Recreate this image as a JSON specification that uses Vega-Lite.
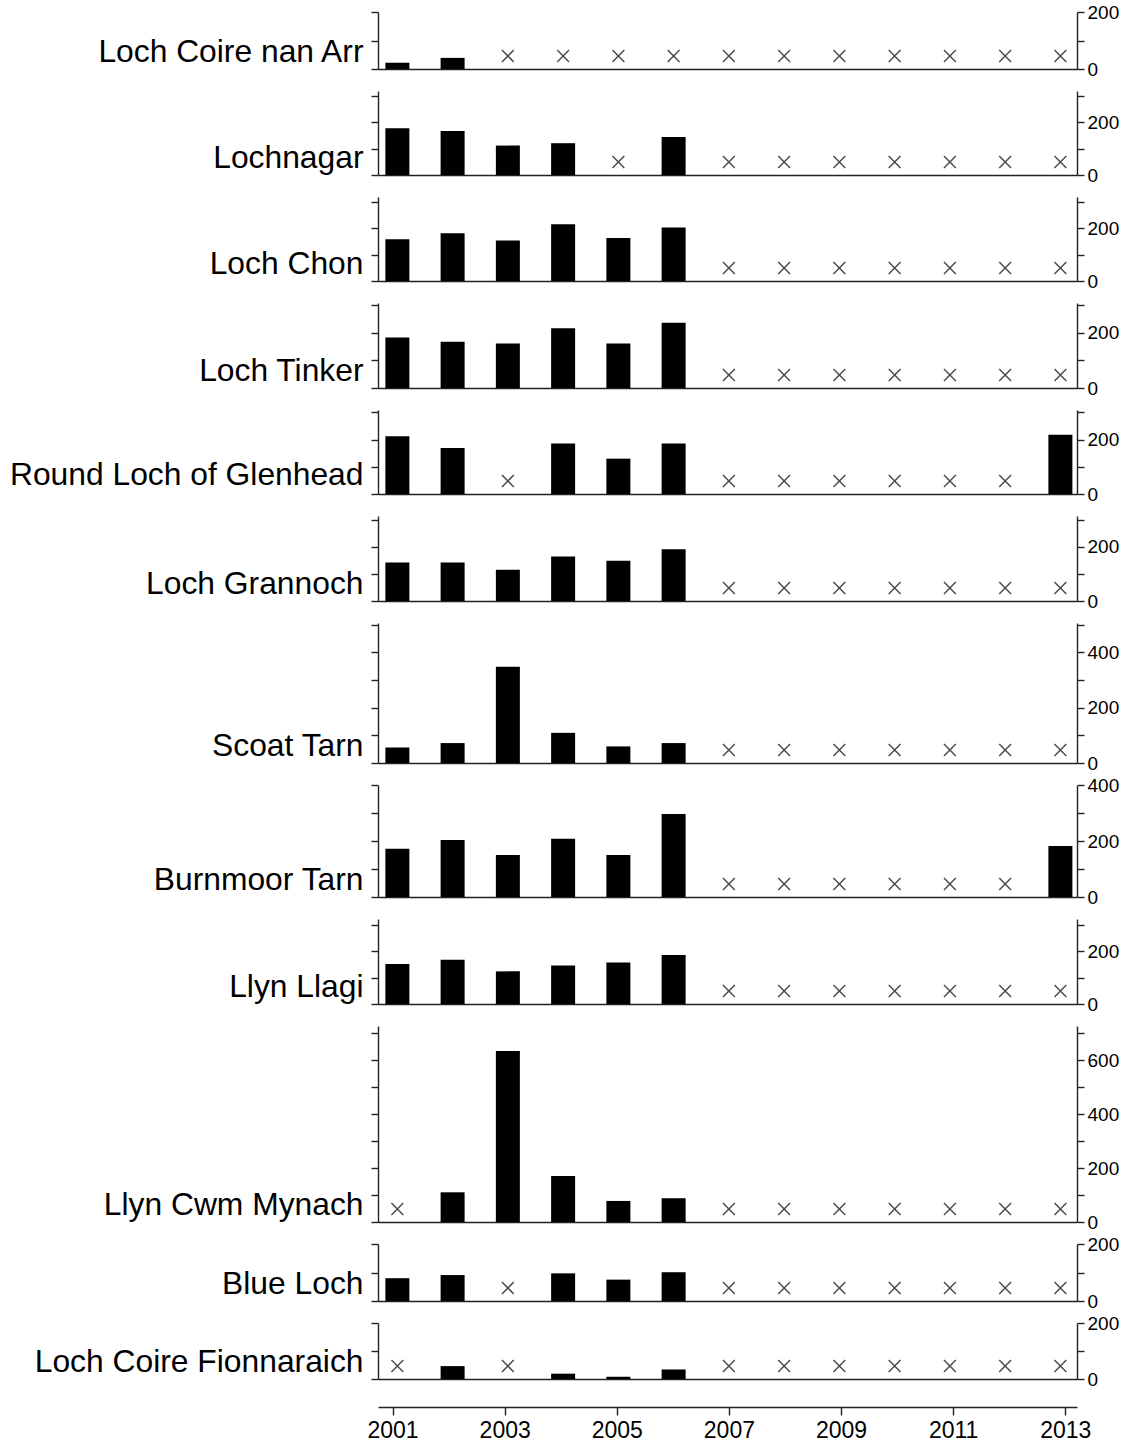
{
"$schema": "https://vega.github.io/schema/vega-lite/v6.json",
"background": "white",
"padding": {"left": 9, "top": 3, "right": 5, "bottom": 0},
"spacing": 22,
"bounds": "flush",
"config": {
  "view": {"stroke": null},
  "axis": {"grid": false, "domainColor": "#222", "tickColor": "#222", "domainWidth": 1.4, "tickWidth": 1.4, "labelFont": "Liberation Sans", "titleFont": "Liberation Sans", "labelColor": "black", "titleColor": "black"}
},
"datasets": {
"d": [
{"lake":"Loch Coire nan Arr","year":2001,"value":22},{"lake":"Loch Coire nan Arr","year":2002,"value":39},{"lake":"Loch Coire nan Arr","year":2003,"value":null},{"lake":"Loch Coire nan Arr","year":2004,"value":null},{"lake":"Loch Coire nan Arr","year":2005,"value":null},{"lake":"Loch Coire nan Arr","year":2006,"value":null},{"lake":"Loch Coire nan Arr","year":2007,"value":null},{"lake":"Loch Coire nan Arr","year":2008,"value":null},{"lake":"Loch Coire nan Arr","year":2009,"value":null},{"lake":"Loch Coire nan Arr","year":2010,"value":null},{"lake":"Loch Coire nan Arr","year":2011,"value":null},{"lake":"Loch Coire nan Arr","year":2012,"value":null},{"lake":"Loch Coire nan Arr","year":2013,"value":null},
{"lake":"Lochnagar","year":2001,"value":176},{"lake":"Lochnagar","year":2002,"value":166},{"lake":"Lochnagar","year":2003,"value":111},{"lake":"Lochnagar","year":2004,"value":120},{"lake":"Lochnagar","year":2005,"value":null},{"lake":"Lochnagar","year":2006,"value":143},{"lake":"Lochnagar","year":2007,"value":null},{"lake":"Lochnagar","year":2008,"value":null},{"lake":"Lochnagar","year":2009,"value":null},{"lake":"Lochnagar","year":2010,"value":null},{"lake":"Lochnagar","year":2011,"value":null},{"lake":"Lochnagar","year":2012,"value":null},{"lake":"Lochnagar","year":2013,"value":null},
{"lake":"Loch Chon","year":2001,"value":158},{"lake":"Loch Chon","year":2002,"value":181},{"lake":"Loch Chon","year":2003,"value":153},{"lake":"Loch Chon","year":2004,"value":215},{"lake":"Loch Chon","year":2005,"value":163},{"lake":"Loch Chon","year":2006,"value":203},{"lake":"Loch Chon","year":2007,"value":null},{"lake":"Loch Chon","year":2008,"value":null},{"lake":"Loch Chon","year":2009,"value":null},{"lake":"Loch Chon","year":2010,"value":null},{"lake":"Loch Chon","year":2011,"value":null},{"lake":"Loch Chon","year":2012,"value":null},{"lake":"Loch Chon","year":2013,"value":null},
{"lake":"Loch Tinker","year":2001,"value":184},{"lake":"Loch Tinker","year":2002,"value":168},{"lake":"Loch Tinker","year":2003,"value":162},{"lake":"Loch Tinker","year":2004,"value":217},{"lake":"Loch Tinker","year":2005,"value":162},{"lake":"Loch Tinker","year":2006,"value":237},{"lake":"Loch Tinker","year":2007,"value":null},{"lake":"Loch Tinker","year":2008,"value":null},{"lake":"Loch Tinker","year":2009,"value":null},{"lake":"Loch Tinker","year":2010,"value":null},{"lake":"Loch Tinker","year":2011,"value":null},{"lake":"Loch Tinker","year":2012,"value":null},{"lake":"Loch Tinker","year":2013,"value":null},
{"lake":"Round Loch of Glenhead","year":2001,"value":212},{"lake":"Round Loch of Glenhead","year":2002,"value":169},{"lake":"Round Loch of Glenhead","year":2003,"value":null},{"lake":"Round Loch of Glenhead","year":2004,"value":186},{"lake":"Round Loch of Glenhead","year":2005,"value":130},{"lake":"Round Loch of Glenhead","year":2006,"value":186},{"lake":"Round Loch of Glenhead","year":2007,"value":null},{"lake":"Round Loch of Glenhead","year":2008,"value":null},{"lake":"Round Loch of Glenhead","year":2009,"value":null},{"lake":"Round Loch of Glenhead","year":2010,"value":null},{"lake":"Round Loch of Glenhead","year":2011,"value":null},{"lake":"Round Loch of Glenhead","year":2012,"value":null},{"lake":"Round Loch of Glenhead","year":2013,"value":218},
{"lake":"Loch Grannoch","year":2001,"value":142},{"lake":"Loch Grannoch","year":2002,"value":142},{"lake":"Loch Grannoch","year":2003,"value":115},{"lake":"Loch Grannoch","year":2004,"value":164},{"lake":"Loch Grannoch","year":2005,"value":148},{"lake":"Loch Grannoch","year":2006,"value":191},{"lake":"Loch Grannoch","year":2007,"value":null},{"lake":"Loch Grannoch","year":2008,"value":null},{"lake":"Loch Grannoch","year":2009,"value":null},{"lake":"Loch Grannoch","year":2010,"value":null},{"lake":"Loch Grannoch","year":2011,"value":null},{"lake":"Loch Grannoch","year":2012,"value":null},{"lake":"Loch Grannoch","year":2013,"value":null},
{"lake":"Scoat Tarn","year":2001,"value":56},{"lake":"Scoat Tarn","year":2002,"value":72},{"lake":"Scoat Tarn","year":2003,"value":348},{"lake":"Scoat Tarn","year":2004,"value":109},{"lake":"Scoat Tarn","year":2005,"value":60},{"lake":"Scoat Tarn","year":2006,"value":72},{"lake":"Scoat Tarn","year":2007,"value":null},{"lake":"Scoat Tarn","year":2008,"value":null},{"lake":"Scoat Tarn","year":2009,"value":null},{"lake":"Scoat Tarn","year":2010,"value":null},{"lake":"Scoat Tarn","year":2011,"value":null},{"lake":"Scoat Tarn","year":2012,"value":null},{"lake":"Scoat Tarn","year":2013,"value":null},
{"lake":"Burnmoor Tarn","year":2001,"value":172},{"lake":"Burnmoor Tarn","year":2002,"value":204},{"lake":"Burnmoor Tarn","year":2003,"value":150},{"lake":"Burnmoor Tarn","year":2004,"value":208},{"lake":"Burnmoor Tarn","year":2005,"value":150},{"lake":"Burnmoor Tarn","year":2006,"value":296},{"lake":"Burnmoor Tarn","year":2007,"value":null},{"lake":"Burnmoor Tarn","year":2008,"value":null},{"lake":"Burnmoor Tarn","year":2009,"value":null},{"lake":"Burnmoor Tarn","year":2010,"value":null},{"lake":"Burnmoor Tarn","year":2011,"value":null},{"lake":"Burnmoor Tarn","year":2012,"value":null},{"lake":"Burnmoor Tarn","year":2013,"value":182},
{"lake":"Llyn Llagi","year":2001,"value":152},{"lake":"Llyn Llagi","year":2002,"value":168},{"lake":"Llyn Llagi","year":2003,"value":124},{"lake":"Llyn Llagi","year":2004,"value":146},{"lake":"Llyn Llagi","year":2005,"value":158},{"lake":"Llyn Llagi","year":2006,"value":186},{"lake":"Llyn Llagi","year":2007,"value":null},{"lake":"Llyn Llagi","year":2008,"value":null},{"lake":"Llyn Llagi","year":2009,"value":null},{"lake":"Llyn Llagi","year":2010,"value":null},{"lake":"Llyn Llagi","year":2011,"value":null},{"lake":"Llyn Llagi","year":2012,"value":null},{"lake":"Llyn Llagi","year":2013,"value":null},
{"lake":"Llyn Cwm Mynach","year":2001,"value":null},{"lake":"Llyn Cwm Mynach","year":2002,"value":110},{"lake":"Llyn Cwm Mynach","year":2003,"value":633},{"lake":"Llyn Cwm Mynach","year":2004,"value":170},{"lake":"Llyn Cwm Mynach","year":2005,"value":78},{"lake":"Llyn Cwm Mynach","year":2006,"value":88},{"lake":"Llyn Cwm Mynach","year":2007,"value":null},{"lake":"Llyn Cwm Mynach","year":2008,"value":null},{"lake":"Llyn Cwm Mynach","year":2009,"value":null},{"lake":"Llyn Cwm Mynach","year":2010,"value":null},{"lake":"Llyn Cwm Mynach","year":2011,"value":null},{"lake":"Llyn Cwm Mynach","year":2012,"value":null},{"lake":"Llyn Cwm Mynach","year":2013,"value":null},
{"lake":"Blue Loch","year":2001,"value":80},{"lake":"Blue Loch","year":2002,"value":91},{"lake":"Blue Loch","year":2003,"value":null},{"lake":"Blue Loch","year":2004,"value":97},{"lake":"Blue Loch","year":2005,"value":75},{"lake":"Blue Loch","year":2006,"value":101},{"lake":"Blue Loch","year":2007,"value":null},{"lake":"Blue Loch","year":2008,"value":null},{"lake":"Blue Loch","year":2009,"value":null},{"lake":"Blue Loch","year":2010,"value":null},{"lake":"Blue Loch","year":2011,"value":null},{"lake":"Blue Loch","year":2012,"value":null},{"lake":"Blue Loch","year":2013,"value":null},
{"lake":"Loch Coire Fionnaraich","year":2001,"value":null},{"lake":"Loch Coire Fionnaraich","year":2002,"value":46},{"lake":"Loch Coire Fionnaraich","year":2003,"value":null},{"lake":"Loch Coire Fionnaraich","year":2004,"value":19},{"lake":"Loch Coire Fionnaraich","year":2005,"value":8},{"lake":"Loch Coire Fionnaraich","year":2006,"value":34},{"lake":"Loch Coire Fionnaraich","year":2007,"value":null},{"lake":"Loch Coire Fionnaraich","year":2008,"value":null},{"lake":"Loch Coire Fionnaraich","year":2009,"value":null},{"lake":"Loch Coire Fionnaraich","year":2010,"value":null},{"lake":"Loch Coire Fionnaraich","year":2011,"value":null},{"lake":"Loch Coire Fionnaraich","year":2012,"value":null},{"lake":"Loch Coire Fionnaraich","year":2013,"value":null}
]
},
"data": {"name": "d"},
"vconcat": [
{"width": 699, "height": 57, "transform": [{"filter": "datum.lake === 'Loch Coire nan Arr'"}],
 "encoding": {"x": {"field": "year", "type": "quantitative", "scale": {"domain": [2000.74, 2013.21], "nice": false, "zero": false}, "axis": {"title": null, "labels": false, "ticks": false, "domain": true}}},
 "layer": [
  {"transform": [{"filter": "datum.value != null"}], "mark": {"type": "bar", "color": "black", "size": 24, "orient": "vertical"},
   "encoding": {"y": {"field": "value", "type": "quantitative", "scale": {"domain": [0, 200], "nice": false}, "axis": {"orient": "left", "labels": false, "values": [0, 100, 200], "tickSize": 7, "title": "Loch Coire nan Arr", "titleAngle": 0, "titleAlign": "right", "titleBaseline": "alphabetic", "titleX": -15, "titleY": 49, "titleFontSize": 31.8, "titleFontWeight": "normal"}}}},
  {"transform": [{"filter": "datum.value == null"}], "mark": {"type": "point", "shape": "M-1,-1L1,1M-1,1L1,-1", "filled": false, "stroke": "black", "strokeWidth": 1.5, "size": 140, "yOffset": -13},
   "encoding": {"y": {"datum": 0, "type": "quantitative", "axis": {"orient": "right", "title": null, "values": [0, 100, 200], "tickSize": 7, "labelFontSize": 19, "labelPadding": 3, "labelExpr": "datum.value % 200 === 0 ? datum.label : ''"}}}}
 ], "resolve": {"axis": {"y": "independent"}}},
{"width": 699, "height": 84, "transform": [{"filter": "datum.lake === 'Lochnagar'"}],
 "encoding": {"x": {"field": "year", "type": "quantitative", "scale": {"domain": [2000.74, 2013.21], "nice": false, "zero": false}, "axis": {"title": null, "labels": false, "ticks": false, "domain": true}}},
 "layer": [
  {"transform": [{"filter": "datum.value != null"}], "mark": {"type": "bar", "color": "black", "size": 24, "orient": "vertical"},
   "encoding": {"y": {"field": "value", "type": "quantitative", "scale": {"domain": [0, 317], "nice": false}, "axis": {"orient": "left", "labels": false, "values": [0, 100, 200, 300], "tickSize": 7, "title": "Lochnagar", "titleAngle": 0, "titleAlign": "right", "titleBaseline": "alphabetic", "titleX": -15, "titleY": 76, "titleFontSize": 31.8, "titleFontWeight": "normal"}}}},
  {"transform": [{"filter": "datum.value == null"}], "mark": {"type": "point", "shape": "M-1,-1L1,1M-1,1L1,-1", "filled": false, "stroke": "black", "strokeWidth": 1.5, "size": 140, "yOffset": -13},
   "encoding": {"y": {"datum": 0, "type": "quantitative", "axis": {"orient": "right", "title": null, "values": [0, 100, 200, 300], "tickSize": 7, "labelFontSize": 19, "labelPadding": 3, "labelExpr": "datum.value % 200 === 0 ? datum.label : ''"}}}}
 ], "resolve": {"axis": {"y": "independent"}}},
{"width": 699, "height": 84, "transform": [{"filter": "datum.lake === 'Loch Chon'"}],
 "encoding": {"x": {"field": "year", "type": "quantitative", "scale": {"domain": [2000.74, 2013.21], "nice": false, "zero": false}, "axis": {"title": null, "labels": false, "ticks": false, "domain": true}}},
 "layer": [
  {"transform": [{"filter": "datum.value != null"}], "mark": {"type": "bar", "color": "black", "size": 24, "orient": "vertical"},
   "encoding": {"y": {"field": "value", "type": "quantitative", "scale": {"domain": [0, 318], "nice": false}, "axis": {"orient": "left", "labels": false, "values": [0, 100, 200, 300], "tickSize": 7, "title": "Loch Chon", "titleAngle": 0, "titleAlign": "right", "titleBaseline": "alphabetic", "titleX": -15, "titleY": 76, "titleFontSize": 31.8, "titleFontWeight": "normal"}}}},
  {"transform": [{"filter": "datum.value == null"}], "mark": {"type": "point", "shape": "M-1,-1L1,1M-1,1L1,-1", "filled": false, "stroke": "black", "strokeWidth": 1.5, "size": 140, "yOffset": -13},
   "encoding": {"y": {"datum": 0, "type": "quantitative", "axis": {"orient": "right", "title": null, "values": [0, 100, 200, 300], "tickSize": 7, "labelFontSize": 19, "labelPadding": 3, "labelExpr": "datum.value % 200 === 0 ? datum.label : ''"}}}}
 ], "resolve": {"axis": {"y": "independent"}}},
{"width": 699, "height": 85, "transform": [{"filter": "datum.lake === 'Loch Tinker'"}],
 "encoding": {"x": {"field": "year", "type": "quantitative", "scale": {"domain": [2000.74, 2013.21], "nice": false, "zero": false}, "axis": {"title": null, "labels": false, "ticks": false, "domain": true}}},
 "layer": [
  {"transform": [{"filter": "datum.value != null"}], "mark": {"type": "bar", "color": "black", "size": 24, "orient": "vertical"},
   "encoding": {"y": {"field": "value", "type": "quantitative", "scale": {"domain": [0, 309], "nice": false}, "axis": {"orient": "left", "labels": false, "values": [0, 100, 200, 300], "tickSize": 7, "title": "Loch Tinker", "titleAngle": 0, "titleAlign": "right", "titleBaseline": "alphabetic", "titleX": -15, "titleY": 77, "titleFontSize": 31.8, "titleFontWeight": "normal"}}}},
  {"transform": [{"filter": "datum.value == null"}], "mark": {"type": "point", "shape": "M-1,-1L1,1M-1,1L1,-1", "filled": false, "stroke": "black", "strokeWidth": 1.5, "size": 140, "yOffset": -13},
   "encoding": {"y": {"datum": 0, "type": "quantitative", "axis": {"orient": "right", "title": null, "values": [0, 100, 200, 300], "tickSize": 7, "labelFontSize": 19, "labelPadding": 3, "labelExpr": "datum.value % 200 === 0 ? datum.label : ''"}}}}
 ], "resolve": {"axis": {"y": "independent"}}},
{"width": 699, "height": 84, "transform": [{"filter": "datum.lake === 'Round Loch of Glenhead'"}],
 "encoding": {"x": {"field": "year", "type": "quantitative", "scale": {"domain": [2000.74, 2013.21], "nice": false, "zero": false}, "axis": {"title": null, "labels": false, "ticks": false, "domain": true}}},
 "layer": [
  {"transform": [{"filter": "datum.value != null"}], "mark": {"type": "bar", "color": "black", "size": 24, "orient": "vertical"},
   "encoding": {"y": {"field": "value", "type": "quantitative", "scale": {"domain": [0, 309], "nice": false}, "axis": {"orient": "left", "labels": false, "values": [0, 100, 200, 300], "tickSize": 7, "title": "Round Loch of Glenhead", "titleAngle": 0, "titleAlign": "right", "titleBaseline": "alphabetic", "titleX": -15, "titleY": 74, "titleFontSize": 31.8, "titleFontWeight": "normal"}}}},
  {"transform": [{"filter": "datum.value == null"}], "mark": {"type": "point", "shape": "M-1,-1L1,1M-1,1L1,-1", "filled": false, "stroke": "black", "strokeWidth": 1.5, "size": 140, "yOffset": -13},
   "encoding": {"y": {"datum": 0, "type": "quantitative", "axis": {"orient": "right", "title": null, "values": [0, 100, 200, 300], "tickSize": 7, "labelFontSize": 19, "labelPadding": 3, "labelExpr": "datum.value % 200 === 0 ? datum.label : ''"}}}}
 ], "resolve": {"axis": {"y": "independent"}}},
{"width": 699, "height": 85, "transform": [{"filter": "datum.lake === 'Loch Grannoch'"}],
 "encoding": {"x": {"field": "year", "type": "quantitative", "scale": {"domain": [2000.74, 2013.21], "nice": false, "zero": false}, "axis": {"title": null, "labels": false, "ticks": false, "domain": true}}},
 "layer": [
  {"transform": [{"filter": "datum.value != null"}], "mark": {"type": "bar", "color": "black", "size": 24, "orient": "vertical"},
   "encoding": {"y": {"field": "value", "type": "quantitative", "scale": {"domain": [0, 313], "nice": false}, "axis": {"orient": "left", "labels": false, "values": [0, 100, 200, 300], "tickSize": 7, "title": "Loch Grannoch", "titleAngle": 0, "titleAlign": "right", "titleBaseline": "alphabetic", "titleX": -15, "titleY": 77, "titleFontSize": 31.8, "titleFontWeight": "normal"}}}},
  {"transform": [{"filter": "datum.value == null"}], "mark": {"type": "point", "shape": "M-1,-1L1,1M-1,1L1,-1", "filled": false, "stroke": "black", "strokeWidth": 1.5, "size": 140, "yOffset": -13},
   "encoding": {"y": {"datum": 0, "type": "quantitative", "axis": {"orient": "right", "title": null, "values": [0, 100, 200, 300], "tickSize": 7, "labelFontSize": 19, "labelPadding": 3, "labelExpr": "datum.value % 200 === 0 ? datum.label : ''"}}}}
 ], "resolve": {"axis": {"y": "independent"}}},
{"width": 699, "height": 140, "transform": [{"filter": "datum.lake === 'Scoat Tarn'"}],
 "encoding": {"x": {"field": "year", "type": "quantitative", "scale": {"domain": [2000.74, 2013.21], "nice": false, "zero": false}, "axis": {"title": null, "labels": false, "ticks": false, "domain": true}}},
 "layer": [
  {"transform": [{"filter": "datum.value != null"}], "mark": {"type": "bar", "color": "black", "size": 24, "orient": "vertical"},
   "encoding": {"y": {"field": "value", "type": "quantitative", "scale": {"domain": [0, 506], "nice": false}, "axis": {"orient": "left", "labels": false, "values": [0, 100, 200, 300, 400, 500], "tickSize": 7, "title": "Scoat Tarn", "titleAngle": 0, "titleAlign": "right", "titleBaseline": "alphabetic", "titleX": -15, "titleY": 132, "titleFontSize": 31.8, "titleFontWeight": "normal"}}}},
  {"transform": [{"filter": "datum.value == null"}], "mark": {"type": "point", "shape": "M-1,-1L1,1M-1,1L1,-1", "filled": false, "stroke": "black", "strokeWidth": 1.5, "size": 140, "yOffset": -13},
   "encoding": {"y": {"datum": 0, "type": "quantitative", "axis": {"orient": "right", "title": null, "values": [0, 100, 200, 300, 400, 500], "tickSize": 7, "labelFontSize": 19, "labelPadding": 3, "labelExpr": "datum.value % 200 === 0 ? datum.label : ''"}}}}
 ], "resolve": {"axis": {"y": "independent"}}},
{"width": 699, "height": 112, "transform": [{"filter": "datum.lake === 'Burnmoor Tarn'"}],
 "encoding": {"x": {"field": "year", "type": "quantitative", "scale": {"domain": [2000.74, 2013.21], "nice": false, "zero": false}, "axis": {"title": null, "labels": false, "ticks": false, "domain": true}}},
 "layer": [
  {"transform": [{"filter": "datum.value != null"}], "mark": {"type": "bar", "color": "black", "size": 24, "orient": "vertical"},
   "encoding": {"y": {"field": "value", "type": "quantitative", "scale": {"domain": [0, 400], "nice": false}, "axis": {"orient": "left", "labels": false, "values": [0, 100, 200, 300, 400], "tickSize": 7, "title": "Burnmoor Tarn", "titleAngle": 0, "titleAlign": "right", "titleBaseline": "alphabetic", "titleX": -15, "titleY": 104, "titleFontSize": 31.8, "titleFontWeight": "normal"}}}},
  {"transform": [{"filter": "datum.value == null"}], "mark": {"type": "point", "shape": "M-1,-1L1,1M-1,1L1,-1", "filled": false, "stroke": "black", "strokeWidth": 1.5, "size": 140, "yOffset": -13},
   "encoding": {"y": {"datum": 0, "type": "quantitative", "axis": {"orient": "right", "title": null, "values": [0, 100, 200, 300, 400], "tickSize": 7, "labelFontSize": 19, "labelPadding": 3, "labelExpr": "datum.value % 200 === 0 ? datum.label : ''"}}}}
 ], "resolve": {"axis": {"y": "independent"}}},
{"width": 699, "height": 85, "transform": [{"filter": "datum.lake === 'Llyn Llagi'"}],
 "encoding": {"x": {"field": "year", "type": "quantitative", "scale": {"domain": [2000.74, 2013.21], "nice": false, "zero": false}, "axis": {"title": null, "labels": false, "ticks": false, "domain": true}}},
 "layer": [
  {"transform": [{"filter": "datum.value != null"}], "mark": {"type": "bar", "color": "black", "size": 24, "orient": "vertical"},
   "encoding": {"y": {"field": "value", "type": "quantitative", "scale": {"domain": [0, 323], "nice": false}, "axis": {"orient": "left", "labels": false, "values": [0, 100, 200, 300], "tickSize": 7, "title": "Llyn Llagi", "titleAngle": 0, "titleAlign": "right", "titleBaseline": "alphabetic", "titleX": -15, "titleY": 77, "titleFontSize": 31.8, "titleFontWeight": "normal"}}}},
  {"transform": [{"filter": "datum.value == null"}], "mark": {"type": "point", "shape": "M-1,-1L1,1M-1,1L1,-1", "filled": false, "stroke": "black", "strokeWidth": 1.5, "size": 140, "yOffset": -13},
   "encoding": {"y": {"datum": 0, "type": "quantitative", "axis": {"orient": "right", "title": null, "values": [0, 100, 200, 300], "tickSize": 7, "labelFontSize": 19, "labelPadding": 3, "labelExpr": "datum.value % 200 === 0 ? datum.label : ''"}}}}
 ], "resolve": {"axis": {"y": "independent"}}},
{"width": 699, "height": 196, "transform": [{"filter": "datum.lake === 'Llyn Cwm Mynach'"}],
 "encoding": {"x": {"field": "year", "type": "quantitative", "scale": {"domain": [2000.74, 2013.21], "nice": false, "zero": false}, "axis": {"title": null, "labels": false, "ticks": false, "domain": true}}},
 "layer": [
  {"transform": [{"filter": "datum.value != null"}], "mark": {"type": "bar", "color": "black", "size": 24, "orient": "vertical"},
   "encoding": {"y": {"field": "value", "type": "quantitative", "scale": {"domain": [0, 726], "nice": false}, "axis": {"orient": "left", "labels": false, "values": [0, 100, 200, 300, 400, 500, 600, 700], "tickSize": 7, "title": "Llyn Cwm Mynach", "titleAngle": 0, "titleAlign": "right", "titleBaseline": "alphabetic", "titleX": -15, "titleY": 188, "titleFontSize": 31.8, "titleFontWeight": "normal"}}}},
  {"transform": [{"filter": "datum.value == null"}], "mark": {"type": "point", "shape": "M-1,-1L1,1M-1,1L1,-1", "filled": false, "stroke": "black", "strokeWidth": 1.5, "size": 140, "yOffset": -13},
   "encoding": {"y": {"datum": 0, "type": "quantitative", "axis": {"orient": "right", "title": null, "values": [0, 100, 200, 300, 400, 500, 600, 700], "tickSize": 7, "labelFontSize": 19, "labelPadding": 3, "labelExpr": "datum.value % 200 === 0 ? datum.label : ''"}}}}
 ], "resolve": {"axis": {"y": "independent"}}},
{"width": 699, "height": 57, "transform": [{"filter": "datum.lake === 'Blue Loch'"}],
 "encoding": {"x": {"field": "year", "type": "quantitative", "scale": {"domain": [2000.74, 2013.21], "nice": false, "zero": false}, "axis": {"title": null, "labels": false, "ticks": false, "domain": true}}},
 "layer": [
  {"transform": [{"filter": "datum.value != null"}], "mark": {"type": "bar", "color": "black", "size": 24, "orient": "vertical"},
   "encoding": {"y": {"field": "value", "type": "quantitative", "scale": {"domain": [0, 200], "nice": false}, "axis": {"orient": "left", "labels": false, "values": [0, 100, 200], "tickSize": 7, "title": "Blue Loch", "titleAngle": 0, "titleAlign": "right", "titleBaseline": "alphabetic", "titleX": -15, "titleY": 49, "titleFontSize": 31.8, "titleFontWeight": "normal"}}}},
  {"transform": [{"filter": "datum.value == null"}], "mark": {"type": "point", "shape": "M-1,-1L1,1M-1,1L1,-1", "filled": false, "stroke": "black", "strokeWidth": 1.5, "size": 140, "yOffset": -13},
   "encoding": {"y": {"datum": 0, "type": "quantitative", "axis": {"orient": "right", "title": null, "values": [0, 100, 200], "tickSize": 7, "labelFontSize": 19, "labelPadding": 3, "labelExpr": "datum.value % 200 === 0 ? datum.label : ''"}}}}
 ], "resolve": {"axis": {"y": "independent"}}},
{"width": 699, "height": 56, "transform": [{"filter": "datum.lake === 'Loch Coire Fionnaraich'"}],
 "encoding": {"x": {"field": "year", "type": "quantitative", "scale": {"domain": [2000.74, 2013.21], "nice": false, "zero": false}, "axis": {"title": null, "labels": false, "ticks": false, "domain": true}}},
 "layer": [
  {"transform": [{"filter": "datum.value != null"}], "mark": {"type": "bar", "color": "black", "size": 24, "orient": "vertical"},
   "encoding": {"y": {"field": "value", "type": "quantitative", "scale": {"domain": [0, 200], "nice": false}, "axis": {"orient": "left", "labels": false, "values": [0, 100, 200], "tickSize": 7, "title": "Loch Coire Fionnaraich", "titleAngle": 0, "titleAlign": "right", "titleBaseline": "alphabetic", "titleX": -15, "titleY": 48, "titleFontSize": 31.8, "titleFontWeight": "normal"}}}},
  {"transform": [{"filter": "datum.value == null"}], "mark": {"type": "point", "shape": "M-1,-1L1,1M-1,1L1,-1", "filled": false, "stroke": "black", "strokeWidth": 1.5, "size": 140, "yOffset": -13},
   "encoding": {"y": {"datum": 0, "type": "quantitative", "axis": {"orient": "right", "title": null, "values": [0, 100, 200], "tickSize": 7, "labelFontSize": 19, "labelPadding": 3, "labelExpr": "datum.value % 200 === 0 ? datum.label : ''"}}}}
 ], "resolve": {"axis": {"y": "independent"}}},
{"width": 699, "height": 6, "transform": [{"filter": "datum.lake === 'Blue Loch'"}],
 "mark": {"type": "point", "opacity": 0},
 "encoding": {"x": {"field": "year", "type": "quantitative", "scale": {"domain": [2000.74, 2013.21], "nice": false, "zero": false}, "axis": {"title": null, "values": [2001, 2003, 2005, 2007, 2009, 2011, 2013], "format": "d", "labelFontSize": 23, "tickSize": 8, "labelPadding": 4, "domain": true}}}}
]
}
